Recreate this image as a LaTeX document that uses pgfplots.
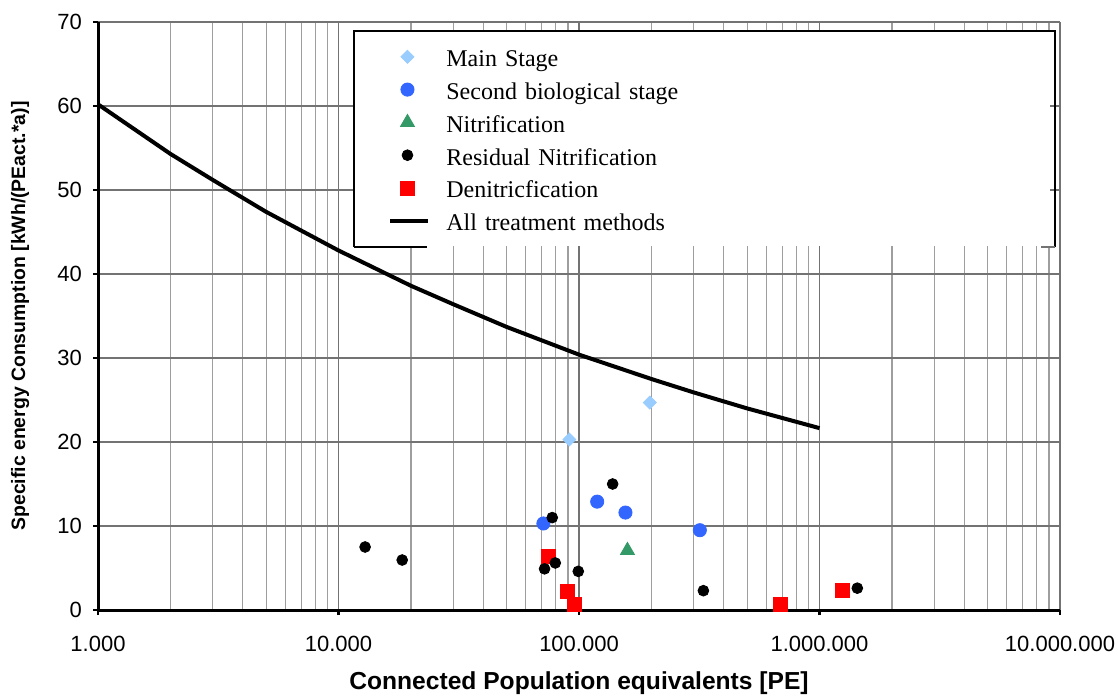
\documentclass[border=0pt]{standalone}
\usepackage{fontspec}
\setmainfont{Liberation Serif}
\setsansfont{Liberation Sans}
\usepackage{pgfplots}
\pgfplotsset{compat=1.18}
\definecolor{mainstage}{HTML}{99CCFF}
\definecolor{secbio}{HTML}{3366FF}
\definecolor{nitri}{HTML}{339966}
\definecolor{denit}{HTML}{FF0000}
\begin{document}
\begin{tikzpicture}
\path[use as bounding box] (-49pt,-43pt) rectangle (510pt,305pt);
\begin{axis}[
  scale only axis, width=481pt, height=294pt,
  at={(0,0)}, anchor=south west,
  xmode=log, log basis x=10,
  xmin=1000, xmax=10000000, ymin=0, ymax=70,
  xtick={1000,10000,100000,1000000,10000000},
  xticklabels={1.000,10.000,100.000,1.000.000,10.000.000},
  minor xtick={2000,3000,4000,5000,6000,7000,8000,9000,
    20000,30000,40000,50000,60000,70000,80000,90000,
    200000,300000,400000,500000,600000,700000,800000,900000,
    2000000,3000000,4000000,5000000,6000000,7000000,8000000,9000000},
  ytick={0,10,20,30,40,50,60,70},
  axis lines=left,
  axis line style={line width=1.5pt, -},
  xmajorgrids, xminorgrids, ymajorgrids,
  major grid style={draw=black!55, line width=0.6pt},
  minor grid style={draw=black!38, line width=0.6pt},
  tick align=outside,
  major tick length=2.5pt, minor tick length=0pt,
  tick style={black, line width=1.2pt},
  /pgf/number format/assume math mode=true,
  ticklabel style={font=\sffamily\fontsize{11}{13}\selectfont},
  xticklabel style={yshift=-7pt},
  yticklabel style={xshift=-2pt},
  xlabel={Connected Population equivalents [PE]},
  ylabel={Specific energy Consumption [kWh/(PEact.*a)]},
  xlabel style={font=\sffamily\bfseries\fontsize{12.3}{14}\selectfont, at={(axis description cs:0.5,-0.124)}, anchor=center},
  ylabel style={font=\sffamily\bfseries\fontsize{9.7}{11}\selectfont, at={(axis description cs:-0.081,0.5)}, anchor=center},
  legend cell align=left,
  legend style={at={(axis description cs:0.2661,0.9847)}, anchor=north west,
    draw=none, fill=white,
    font=\rmfamily\fontsize{12}{14}\selectfont,
    inner xsep=17pt, inner ysep=4.5pt, row sep=0pt,
    nodes={inner ysep=2.2pt, text height=11pt, text depth=1pt},
    /tikz/every odd column/.append style={column sep=6pt},
    /tikz/column 2/.style={nodes={text width=283pt, align=left}}},
]
% legend entries
\addlegendimage{only marks, mark=square*, mark size=2.3pt, color=mainstage, mark options={rotate=45}}
\addlegendentry{Main Stage}
\addlegendimage{only marks, mark=*, mark size=3.3pt, color=secbio}
\addlegendentry{Second biological stage}
\addlegendimage{only marks, mark=triangle*, mark size=4pt, color=nitri}
\addlegendentry{Nitrification}
\addlegendimage{only marks, mark=*, mark size=2.7pt, color=black}
\addlegendentry{Residual Nitrification}
\addlegendimage{only marks, mark=square*, mark size=3.5pt, color=denit}
\addlegendentry{Denitricfication}
\addlegendimage{black, line width=2pt, legend image code/.code={\draw[black, line width=2pt] (0pt,0pt) -- (19pt,0pt);}}
\addlegendentry{All treatment methods}
% data
\addplot[forget plot, only marks, mark=square*, mark size=2.3pt, color=mainstage, mark options={rotate=45}]
  coordinates {(91200,20.3) (197000,24.7)};
\addplot[forget plot, only marks, mark=*, mark size=3.3pt, color=secbio]
  coordinates {(71100,10.3) (119000,12.9) (156000,11.6) (318000,9.5)};
\addplot[forget plot, only marks, mark=triangle*, mark size=4pt, color=nitri]
  coordinates {(159000,7.1)};
\addplot[forget plot, only marks, mark=square*, mark size=3.5pt, color=denit]
  coordinates {(74600,6.4) (89500,2.2) (95700,0.7) (687000,0.7) (1242000,2.35)};
\addplot[forget plot, only marks, mark=*, mark size=2.7pt, color=black]
  coordinates {(12900,7.5) (18400,5.95) (77400,11.0) (138000,15.0) (71900,4.9) (79700,5.6) (99300,4.6) (329000,2.3) (1436000,2.6)};
\addplot[forget plot, black, line width=2pt]
  coordinates {(1000,60.2) (2000,54.3) (3000,51.2) (5000,47.4) (10000,42.8) (20000,38.6) (30000,36.4) (50000,33.7) (100000,30.4) (200000,27.5) (300000,25.9) (500000,24.0) (1000000,21.65)};
\coordinate (LT) at (axis description cs:0.2661,0.9847);
\coordinate (RT) at (axis description cs:0.9948,0.9847);
\coordinate (LB) at (axis description cs:0.2661,0.6173);
\coordinate (RB) at (axis description cs:0.9948,0.6173);
\end{axis}
\draw[black, line width=0.6pt] (LB) -- (LT) -- (RT) -- (RB);
\draw[black, line width=0.6pt] (LB) -- ++(36.5pt,0pt);
\draw[black!55, line width=1pt] (RB) -- ++(-7pt,0pt);
\end{tikzpicture}
\end{document}
